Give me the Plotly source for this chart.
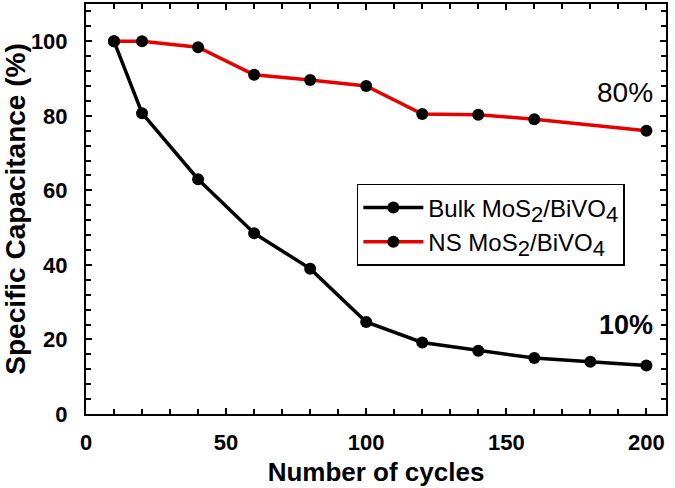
import plotly.graph_objects as go

bulk_x = [10, 20, 40, 60, 80, 100, 120, 140, 160, 180, 200]
bulk_y = [100, 80.7, 63, 48.5, 39, 24.7, 19.2, 17, 15, 14, 13]
ns_x = [10, 20, 40, 60, 80, 100, 120, 140, 160, 200]
ns_y = [100, 100, 98.4, 91, 89.6, 88, 80.5, 80.3, 79.1, 76]

FONT = "Arial, Liberation Sans"

def sub(t):
    return "<sub><span style='font-size:22px'>" + t + "</span></sub>"

fig = go.Figure()
fig.add_trace(go.Scatter(x=bulk_x, y=bulk_y, mode="lines+markers",
                         name="Bulk MoS" + sub("2") + "/BiVO" + sub("4"),
                         line=dict(color="black", width=3.5),
                         marker=dict(color="black", size=12)))
fig.add_trace(go.Scatter(x=ns_x, y=ns_y, mode="lines+markers",
                         name="NS MoS" + sub("2") + "/BiVO" + sub("4"),
                         line=dict(color="#e60000", width=3.5),
                         marker=dict(color="black", size=12)))

axis_common = dict(showline=True, linecolor="black", linewidth=2, mirror="ticks",
                   ticks="inside", tickcolor="black", tickwidth=1.5, ticklen=6,
                   showgrid=False, zeroline=False,
                   tickfont=dict(family=FONT, size=22, color="black", weight="bold"))

fig.update_xaxes(range=[0, 207], tickvals=[0, 50, 100, 150, 200],
                 minor=dict(ticks="inside", dtick=10, ticklen=5, tickcolor="black", tickwidth=1.5),
                 ticklabelstandoff=8,
                 title=dict(text="<b>Number of cycles</b>", font=dict(family=FONT, size=26, color="black"), standoff=8),
                 **axis_common)
fig.update_yaxes(range=[0, 110], tickvals=[0, 20, 40, 60, 80, 100],
                 minor=dict(ticks="inside", dtick=4, ticklen=5, tickcolor="black", tickwidth=1.5),
                 ticklabelstandoff=12,
                 title=dict(text="<b>Specific Capacitance (%)</b>", font=dict(family=FONT, size=28, color="black"), standoff=6),
                 **axis_common)

fig.add_annotation(x=203, y=86.3, text="80%", showarrow=False, xanchor="right", yanchor="middle",
                   font=dict(family=FONT, size=28, color="black"))
fig.add_annotation(x=203, y=23.8, text="<b>10%</b>", showarrow=False, xanchor="right", yanchor="middle",
                   font=dict(family=FONT, size=27, color="black"))

fig.update_layout(
    width=675, height=488,
    margin=dict(l=86, r=9, t=2, b=74),
    paper_bgcolor="white", plot_bgcolor="white",
    legend=dict(x=0.467, y=0.561, xanchor="left", yanchor="top",
                bordercolor="black", borderwidth=1.5, bgcolor="white",
                font=dict(family=FONT, size=24, color="black"),
                itemwidth=60, tracegroupgap=4),
    showlegend=True,
)

fig.write_html("out.html", config={"displayModeBar": False},
               post_script="document.body.style.margin='0px';")
